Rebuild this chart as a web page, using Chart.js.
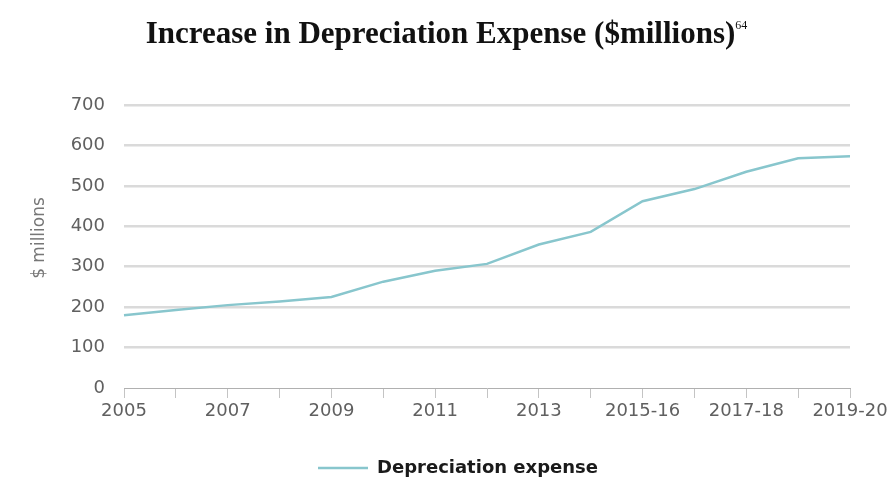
<!DOCTYPE html>
<html>
<head>
<meta charset="utf-8">
<script src="https://cdn.jsdelivr.net/npm/chart.js@4.4.1/dist/chart.umd.min.js"></script>
<style>
    body { margin: 0; background: #fff; }
    #wrap { position: relative; width: 893px; height: 487px; }
    #title {
        position: absolute; left: 0; top: 5px; width: 893px;
        text-align: center; line-height: 40px;
        font-family: "Liberation Serif", serif;
        font-weight: bold; font-size: 31px; color: #111;
    }
    #title sup { font-size: 12px; font-weight: normal; vertical-align: 14px; }
    #chartBox { position: absolute; left: 0; top: 0; width: 893px; height: 487px; }
</style>
</head>
<body>
<div id="wrap">
    <div id="chartBox"><canvas id="depChart"></canvas></div>
    <div id="title">Increase in Depreciation Expense ($millions)<sup>64</sup></div>
</div>
<script>
const years = ['2005', '2006', '2007', '2008', '2009', '2010', '2011', '2012', '2013', '2014',
    '2015-16', '2016-17', '2017-18', '2018-19', '2019-20'];
const depreciation = [180, 193, 205, 214, 225, 263, 290, 307, 355, 386, 462, 492, 535, 568, 573];
const yTicks = [0, 100, 200, 300, 400, 500, 600, 700];

const lineColor = '#88c6cd';
const axisFont = { family: 'DejaVu Sans', size: 18 };

const ctx = document.getElementById('depChart').getContext('2d');
const depChart = new Chart(ctx, {
    type: 'line',
    data: {
        labels: years,
        datasets: [{
            label: 'Depreciation expense',
            data: depreciation,
            borderColor: lineColor,
            backgroundColor: lineColor,
            borderWidth: 2.5,
            pointRadius: 0,
            tension: 0
        }]
    },
    options: {
        responsive: true,
        maintainAspectRatio: false,
        animation: false,
        layout: {
            padding: { top: 105, right: 43, bottom: 0, left: 66 }
        },
        plugins: {
            tooltip: { enabled: false },
            legend: {
                position: 'bottom',
                labels: {
                    usePointStyle: true,
                    pointStyle: 'line',
                    pointStyleWidth: 50,
                    color: '#1a1a1a',
                    font: { family: 'DejaVu Sans', size: 18, weight: 'bold' },
                    padding: 3
                }
            }
        },
        scales: {
            x: {
                offset: false,
                afterFit: function(scale) {
                    scale.height = 68;
                },
                grid: {
                    drawOnChartArea: false,
                    drawTicks: true,
                    tickLength: 10,
                    color: '#c4c4c4'
                },
                border: { display: true, color: '#b0b0b0', width: 1 },
                ticks: {
                    autoSkip: false,
                    maxRotation: 0,
                    minRotation: 0,
                    padding: 3,
                    color: '#606060',
                    font: axisFont,
                    callback: function(value, index) {
                        return index % 2 === 0 ? this.getLabelForValue(value) : '';
                    }
                }
            },
            y: {
                min: 0,
                max: 700,
                afterFit: function(scale) {
                    scale.width = 58;
                },
                afterBuildTicks: function(scale) {
                    scale.ticks = yTicks.map(v => ({ value: v }));
                },
                grid: {
                    drawTicks: false,
                    lineWidth: 2.5,
                    color: function(c) {
                        return c.tick && c.tick.value === 0 ? 'rgba(0,0,0,0)' : '#dadada';
                    }
                },
                border: { display: false },
                title: {
                    display: true,
                    text: '\u2002\u2002$ millions',
                    color: '#777',
                    font: { family: 'DejaVu Sans', size: 17 },
                    padding: { top: -37, bottom: 0 }
                },
                ticks: {
                    padding: 19,
                    color: '#606060',
                    font: axisFont
                }
            }
        }
    }
});
</script>
</body>
</html>
